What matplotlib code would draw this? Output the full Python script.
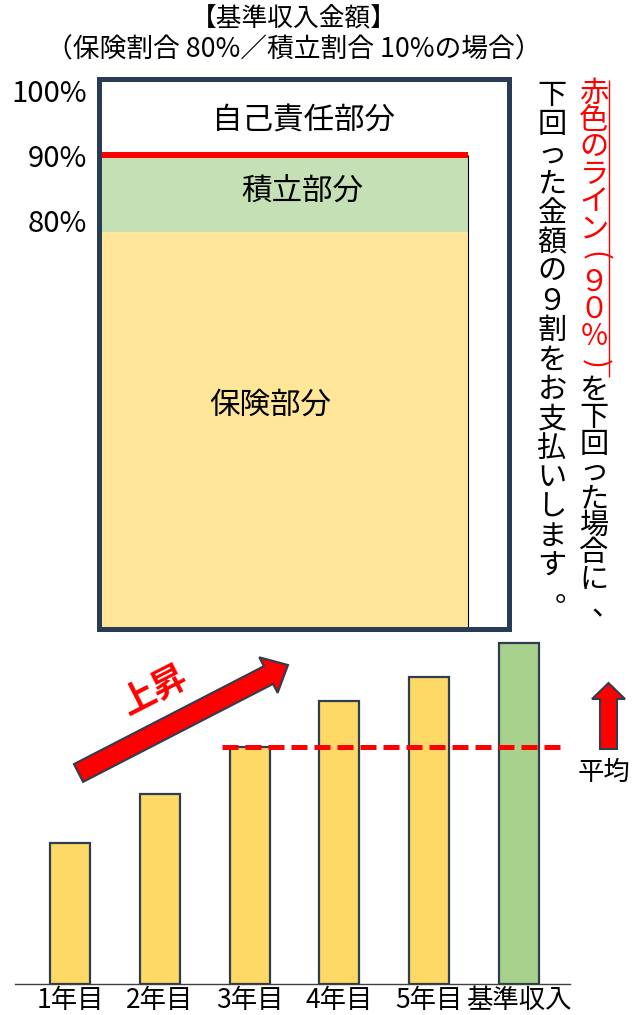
import numpy as np
import matplotlib
matplotlib.use('Agg')
import matplotlib.pyplot as plt
from matplotlib.patches import FancyArrow

plt.rcParams['font.family'] = ['Noto Sans CJK JP', 'DejaVu Sans']

# top panel: share of the base income
parts = ['保険部分', '積立部分', '自己責任部分']
part_values = [80, 10, 10]
part_colors = ['#FFE699', '#C5E0B4', '#FFFFFF']
top_ticks = [80, 90, 100]
top_tick_labels = ['80%', '90%', '100%']
line_level = 90

# bottom panel: income per year
years = ['1年目', '2年目', '3年目', '4年目', '5年目', '基準収入']
incomes = [141, 190, 237, 283, 307, 341]
avg_level = 237

title1 = '【基準収入金額】'
title2 = '（保険割合 80%／積立割合 10%の場合）'
note_red = '赤色のライン(９０％)'
note_rest = 'を下回った場合に、'
note_left = '下回った金額の９割をお支払いします。'

W, H = 632, 1015
fig = plt.figure(figsize=(W / 100, H / 100), dpi=100)


def px_axes(l, t, r, b):
    return fig.add_axes([l / W, 1 - b / H, (r - l) / W, (b - t) / H])


navy = '#2d3e50'

# ---- top panel
ax1 = px_axes(98.5, 78.5, 508.5, 628.5)


def fwd(v):
    return np.interp(v, [0, 80, 100], [0, 396.5, 550])


def inv(p):
    return np.interp(p, [0, 396.5, 550], [0, 80, 100])


ax1.set_yscale('function', functions=(fwd, inv))
ax1.set_xlim(0, 1)
ax1.set_ylim(0, 100)
bar_w = 0.9
bottoms = np.cumsum([0] + part_values[:-1])
ax1.bar([0] * 3, part_values, width=bar_w, bottom=bottoms, align='edge',
        color=part_colors, linewidth=0)
ax1.vlines(bar_w, 0, line_level, color='black', lw=0.8)
ax1.hlines(line_level, 0, bar_w, color='red', lw=4.3)
for s in ax1.spines.values():
    s.set_color('#283d55')
    s.set_linewidth(3.6)
ax1.set_xticks([])
ax1.set_yticks(top_ticks, top_tick_labels)
ax1.tick_params(axis='y', length=0, pad=8, labelsize=21)
for lab, va in zip(ax1.get_yticklabels(), ['baseline', 'center_baseline', 'top']):
    lab.set_va(va)
ax1.text(0.5, 94.5, parts[2], ha='center', va='center', fontsize=22)
ax1.text(0.4976, 85.3, parts[1], ha='center', va='center', fontsize=22)
ax1.text(0.418, 45.1, parts[0], ha='center', va='center', fontsize=22)

# ---- bottom panel
ax2 = px_axes(15, 630, 570, 984)
x = np.arange(len(years))
colors = ['#FFD966'] * 5 + ['#A9D18E']
ax2.bar(x, incomes, width=0.445, color=colors, edgecolor=navy, linewidth=1.6, zorder=2)
ax2.hlines(avg_level, 1.69, 5.48, colors='red', lw=3.6,
           linestyles=(0, (3.2, 1.4)), zorder=3)
ax2.set_xlim(-0.612, 5.568)
ax2.set_ylim(0, 354)
for k in ['top', 'left', 'right']:
    ax2.spines[k].set_visible(False)
ax2.spines['bottom'].set_color('#404040')
ax2.spines['bottom'].set_linewidth(1)
ax2.set_yticks([])
ax2.set_xticks(x, years)
ax2.tick_params(axis='x', length=0, pad=2, labelsize=19)
ax2.patch.set_alpha(0)

# ---- overlay for titles, arrows and vertical note
ax0 = fig.add_axes([0, 0, 1, 1])
ax0.set_xlim(0, W)
ax0.set_ylim(H, 0)
ax0.axis('off')
ax0.patch.set_alpha(0)

ax0.text(294, 20, title1, ha='center', va='center', fontsize=18.5)
ax0.text(294, 50, title2, ha='center', va='center', fontsize=19.3)

ax0.add_patch(FancyArrow(78.5, 773, 209.5, -108, width=20, head_width=40,
                         head_length=22, length_includes_head=True,
                         fc='red', ec=navy, lw=1.5))
ax0.text(154, 690, '上昇', color='red', fontsize=25, fontweight='bold',
         rotation=27, ha='center', va='center', rotation_mode='anchor')

ax0.add_patch(FancyArrow(608.5, 749, 0, -66, width=17, head_width=33,
                         head_length=16, length_includes_head=True,
                         fc='red', ec=navy, lw=1.5))
ax0.text(604, 772, '平均', ha='center', va='center', fontsize=19)


def vtext(xc, y0, step, segments):
    cur = y0
    for s, col in segments:
        for ch in s:
            kw = dict(color=col, ha='center', va='center', fontsize=21)
            if ch in '()':
                ax0.text(xc, cur, ch, rotation=-90, rotation_mode='anchor', **kw)
            elif ch == '、':
                ax0.text(xc + 12, cur, ch, **kw)
            elif ch == '。':
                ax0.text(xc + 17, cur - 3, ch, **kw)
            else:
                ax0.text(xc, cur, ch, **kw)
            cur += step


vtext(594, 94, 27, [(note_red, 'red'), (note_rest, 'black')])
vtext(552, 96, 29.4, [(note_left, 'black')])
ax0.vlines(609, 80, 377, color='red', lw=1)

fig.savefig('out.png', dpi=100)
